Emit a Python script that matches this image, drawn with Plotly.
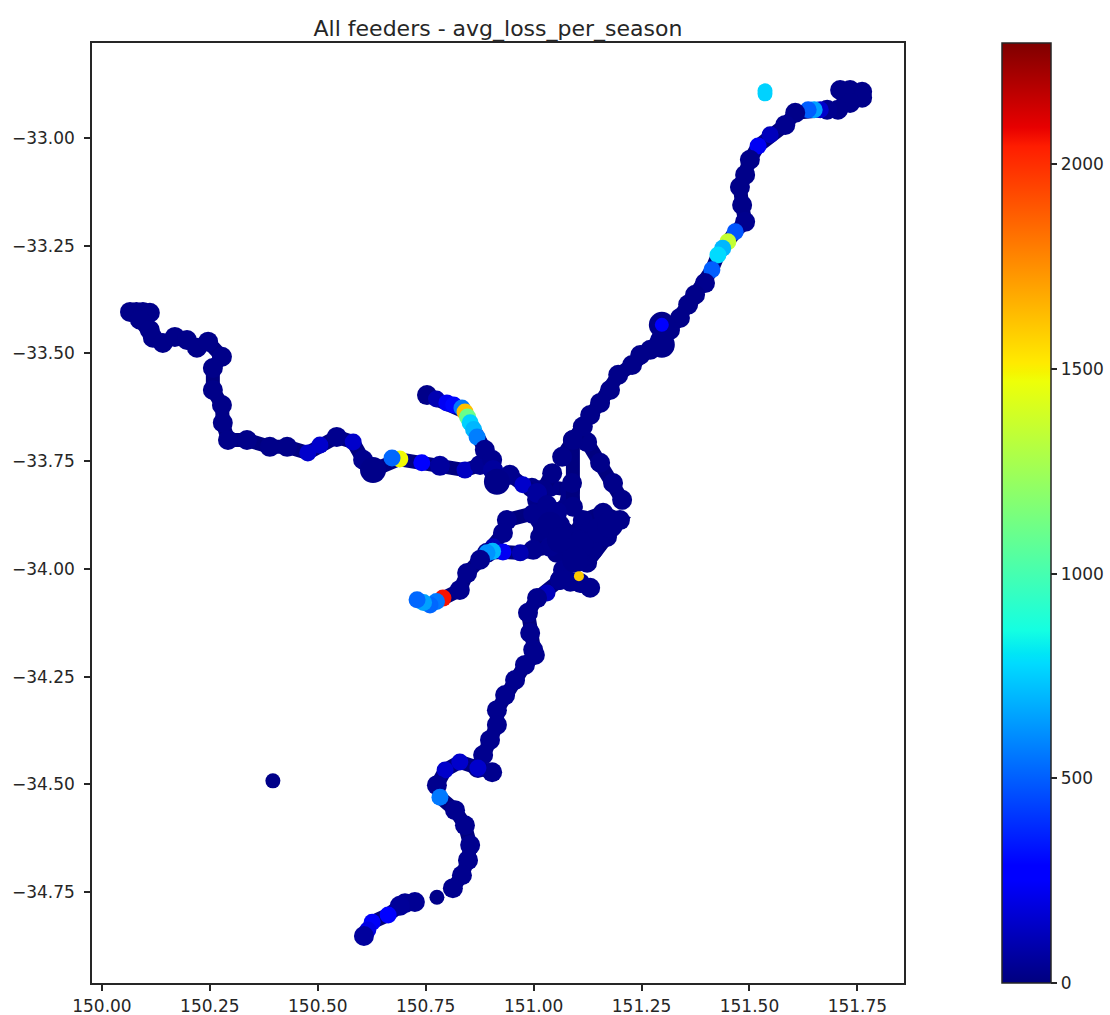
import plotly.graph_objects as go

TITLE = "All feeders - avg_loss_per_season"
X_TICKS = [150.00, 150.25, 150.50, 150.75, 151.00, 151.25, 151.50, 151.75]
Y_TICKS = [-33.00, -33.25, -33.50, -33.75, -34.00, -34.25, -34.50, -34.75]
CB_TICKS = [0, 500, 1000, 1500, 2000]

west_lon = [150.065,150.080,150.095,150.111,150.088,150.111,150.118,150.141,150.169,150.197,150.220,150.246,150.278,150.257,150.257,150.278,150.280,150.292,150.336,150.389,150.429,150.477,150.505,150.544,150.582,150.605,150.628,150.690,150.672,150.741,150.783,150.841,150.876,150.906,150.915,150.945,150.975,151.008,151.031,151.054]
west_lat = [-33.404,-33.404,-33.404,-33.406,-33.422,-33.446,-33.464,-33.476,-33.462,-33.469,-33.487,-33.473,-33.508,-33.534,-33.585,-33.620,-33.661,-33.701,-33.701,-33.717,-33.717,-33.731,-33.713,-33.694,-33.706,-33.747,-33.771,-33.745,-33.743,-33.754,-33.761,-33.771,-33.759,-33.771,-33.798,-33.782,-33.805,-33.824,-33.852,-33.868]
west_val = [20,20,20,20,20,20,20,20,20,20,20,20,20,20,20,20,20,20,20,20,20,150,150,30,150,30,30,1480,520,250,60,130,40,60,30,30,150,60,30,30]

north_lon = [150.753,150.775,150.799,150.815,150.834,150.841,150.847,150.853,150.861,150.869,150.887,150.904,150.906]
north_lat = [-33.597,-33.606,-33.615,-33.620,-33.627,-33.636,-33.648,-33.661,-33.677,-33.694,-33.724,-33.747,-33.771]
north_val = [20,100,230,300,560,1620,1100,760,700,570,30,30,60]

main_lon = [151.761,151.733,151.710,151.722,151.761,151.733,151.705,151.680,151.664,151.650,151.636,151.606,151.583,151.548,151.520,151.501,151.490,151.478,151.483,151.490,151.467,151.450,151.438,151.427,151.413,151.397,151.374,151.358,151.339,151.316,151.293,151.270,151.247,151.228,151.196,151.177,151.154,151.131,151.114,151.091,151.066]
main_lat = [-32.893,-32.889,-32.889,-32.900,-32.907,-32.919,-32.935,-32.935,-32.935,-32.935,-32.935,-32.942,-32.970,-32.993,-33.019,-33.051,-33.086,-33.114,-33.156,-33.195,-33.218,-33.241,-33.256,-33.272,-33.306,-33.337,-33.364,-33.387,-33.418,-33.446,-33.469,-33.492,-33.504,-33.527,-33.550,-33.585,-33.615,-33.643,-33.670,-33.701,-33.740]
main_val = [20,20,20,20,20,20,20,30,150,650,500,20,30,120,230,20,20,20,20,30,480,1350,700,780,500,30,20,20,20,20,20,20,20,20,20,20,20,20,20,20,20]

spur_lon = [151.091,151.089,151.091]
spur_lat = [-33.701,-33.801,-33.856]
spur_val = [20,20,20]

east_lon = [151.124,151.154,151.184,151.205]
east_lat = [-33.706,-33.754,-33.801,-33.840]
east_val = [20,20,20,20]

short_lon = [151.043,151.022,151.008]
short_lat = [-33.778,-33.817,-33.840]
short_val = [20,20,20]

southwest_lon = [151.038,150.999,150.969,150.929,150.905,150.892,150.876,150.846,150.829,150.790,150.775,150.760,150.745,150.730]
southwest_lat = [-33.949,-33.956,-33.963,-33.961,-33.959,-33.963,-33.979,-34.010,-34.049,-34.068,-34.076,-34.084,-34.078,-34.072]
southwest_val = [30,30,100,230,700,620,30,30,30,2060,560,520,650,520]

diamond_lon = [151.031,150.999,150.938,150.929,150.906,150.892]
diamond_lat = [-33.863,-33.873,-33.887,-33.917,-33.949,-33.963]
diamond_val = [30,30,30,30,100,30]

hub_lon = [150.996,151.038,151.084,151.084,151.054,151.022,151.015,151.015,151.054,151.091,151.114,151.161,151.200,151.170,151.138,151.124,151.091,151.054,151.108,151.131,151.154,151.108,151.061,151.054]
hub_lat = [-33.812,-33.810,-33.817,-33.840,-33.870,-33.847,-33.887,-33.926,-33.926,-33.926,-33.887,-33.870,-33.887,-33.926,-33.956,-33.986,-33.968,-33.963,-33.933,-33.910,-33.910,-33.933,-33.898,-33.926]
hub_val = [20,20,20,20,20,20,20,20,20,20,20,20,20,20,20,20,20,20,20,20,20,20,20,20]

south_lon = [151.108,151.068,151.061,151.031,151.008,150.987,150.992,150.999,151.003,150.980,150.957,150.934,150.915,150.915,150.899,150.883,150.871,150.829,150.795,150.776,150.783,150.818,150.841,150.853,150.848,150.834,150.813]
south_lat = [-33.979,-34.003,-34.026,-34.056,-34.068,-34.102,-34.149,-34.188,-34.200,-34.223,-34.258,-34.293,-34.328,-34.362,-34.397,-34.432,-34.462,-34.448,-34.467,-34.502,-34.530,-34.560,-34.595,-34.641,-34.676,-34.711,-34.741]
south_val = [20,30,30,120,30,30,30,30,30,30,30,30,30,30,30,30,150,150,150,30,560,30,30,30,30,30,30]

loop_lon = [151.061,151.085,151.108,151.131]
loop_lat = [-34.026,-34.030,-34.033,-34.044]
loop_val = [30,30,30,30]

tail_lon = [150.871,150.904]
tail_lat = [-34.462,-34.472]
tail_val = [30,30]

coast_lon = [150.725,150.702,150.690,150.663,150.626,150.616,150.607]
coast_lat = [-34.773,-34.776,-34.782,-34.803,-34.820,-34.838,-34.852]
coast_val = [40,40,50,270,240,200,60]

single_lon = [150.776,150.396,151.536,151.536]
single_lat = [-34.762,-34.492,-32.891,-32.898]
single_val = [20,20,760,760]

blob_lon = [151.297,151.297,150.915,150.628,151.038,151.061,151.108,151.154,151.177,151.096]
blob_lat = [-33.480,-33.434,-33.798,-33.771,-33.898,-33.933,-33.945,-33.910,-33.898,-33.979]
blob_val = [20,20,20,20,20,20,20,20,20,20]

accent_lon = [151.297]
accent_lat = [-33.434]
accent_val = [280]

yellow_lon = [151.105]
yellow_lat = [-34.017]
yellow_val = [1600]

JET = [[0, "rgb(0,0,127)"], [0.11, "rgb(0,0,255)"], [0.125, "rgb(0,0,255)"], [0.34, "rgb(0,219,255)"],
       [0.35, "rgb(0,229,246)"], [0.375, "rgb(20,255,226)"], [0.64, "rgb(238,255,8)"], [0.65, "rgb(246,244,0)"],
       [0.66, "rgb(255,234,0)"], [0.89, "rgb(255,29,0)"], [0.91, "rgb(232,0,0)"], [1, "rgb(127,0,0)"]]

W, H = 1110, 1015
L, R, T, B = 92, 904, 43, 983
FONT = "DejaVu Sans"
INK = "#262626"

fig = go.Figure()
feeders = [
    (hub_lon, hub_lat, hub_val), (spur_lon, spur_lat, spur_val), (east_lon, east_lat, east_val),
    (short_lon, short_lat, short_val), (diamond_lon, diamond_lat, diamond_val),
    (loop_lon, loop_lat, loop_val), (tail_lon, tail_lat, tail_val), (south_lon, south_lat, south_val),
    (main_lon, main_lat, main_val), (west_lon, west_lat, west_val), (north_lon, north_lat, north_val),
    (southwest_lon, southwest_lat, southwest_val), (coast_lon, coast_lat, coast_val),
]
for lon, lat, val in feeders:
    fig.add_trace(go.Scatter(
        x=lon, y=lat, mode="lines+markers",
        line=dict(color="rgb(0,0,127)", width=14),
        marker=dict(color=val, coloraxis="coloraxis", opacity=1,
                    size=[20 if v < 100 else 17 for v in val], line=dict(width=0)),
        showlegend=False, hoverinfo="skip",
    ))
for lon, lat, val, size in [
    (single_lon, single_lat, single_val, 15),
    (blob_lon, blob_lat, blob_val, 26),
    (accent_lon, accent_lat, accent_val, 14),
    (yellow_lon, yellow_lat, yellow_val, 10),
]:
    fig.add_trace(go.Scatter(x=lon, y=lat, mode="markers",
                             marker=dict(color=val, coloraxis="coloraxis", opacity=1, size=size, line=dict(width=0)),
                             showlegend=False, hoverinfo="skip"))

axis_style = dict(tickformat=".2f", showgrid=False, zeroline=False, showline=True, mirror=True,
                  linecolor=INK, linewidth=1.5, ticks="outside", ticklen=6, tickwidth=1.5,
                  tickcolor=INK)

fig.update_layout(
    width=W, height=H, autosize=False,
    margin=dict(l=0, r=0, t=0, b=0, autoexpand=False),
    paper_bgcolor="white", plot_bgcolor="white",
    font=dict(family=FONT, size=17, color=INK),
    title=dict(text=TITLE, x=(L + R) / 2 / W, xanchor="center", xref="paper",
               y=1 - 28 / H, yanchor="middle", yref="container",
               font=dict(family=FONT, size=22, color=INK)),
    xaxis=dict(domain=[L / W, R / W], range=[149.977, 151.858], tickvals=X_TICKS,
               ticklabelstandoff=1, **axis_style),
    yaxis=dict(domain=[1 - B / H, 1 - T / H], range=[-34.961, -32.780], tickvals=Y_TICKS,
               ticklabelstandoff=6, **axis_style),
    coloraxis=dict(
        cmin=0, cmax=2296, colorscale=JET,
        colorbar=dict(
            x=1002 / W, xanchor="left", xpad=0, xref="paper",
            y=1 - B / H, yanchor="bottom", ypad=0, yref="paper",
            len=(B - T) / H, lenmode="fraction",
            thickness=49, thicknessmode="pixels",
            tickvals=CB_TICKS, ticks="outside", ticklen=6, tickwidth=1.5, tickcolor=INK,
            outlinewidth=1.5, outlinecolor=INK,
            tickfont=dict(family=FONT, size=17, color=INK),
        ),
    ),
)

fig.write_html("out.html", config={"displayModeBar": False},
               post_script="document.body.style.margin='0';document.documentElement.style.overflow='hidden';")
